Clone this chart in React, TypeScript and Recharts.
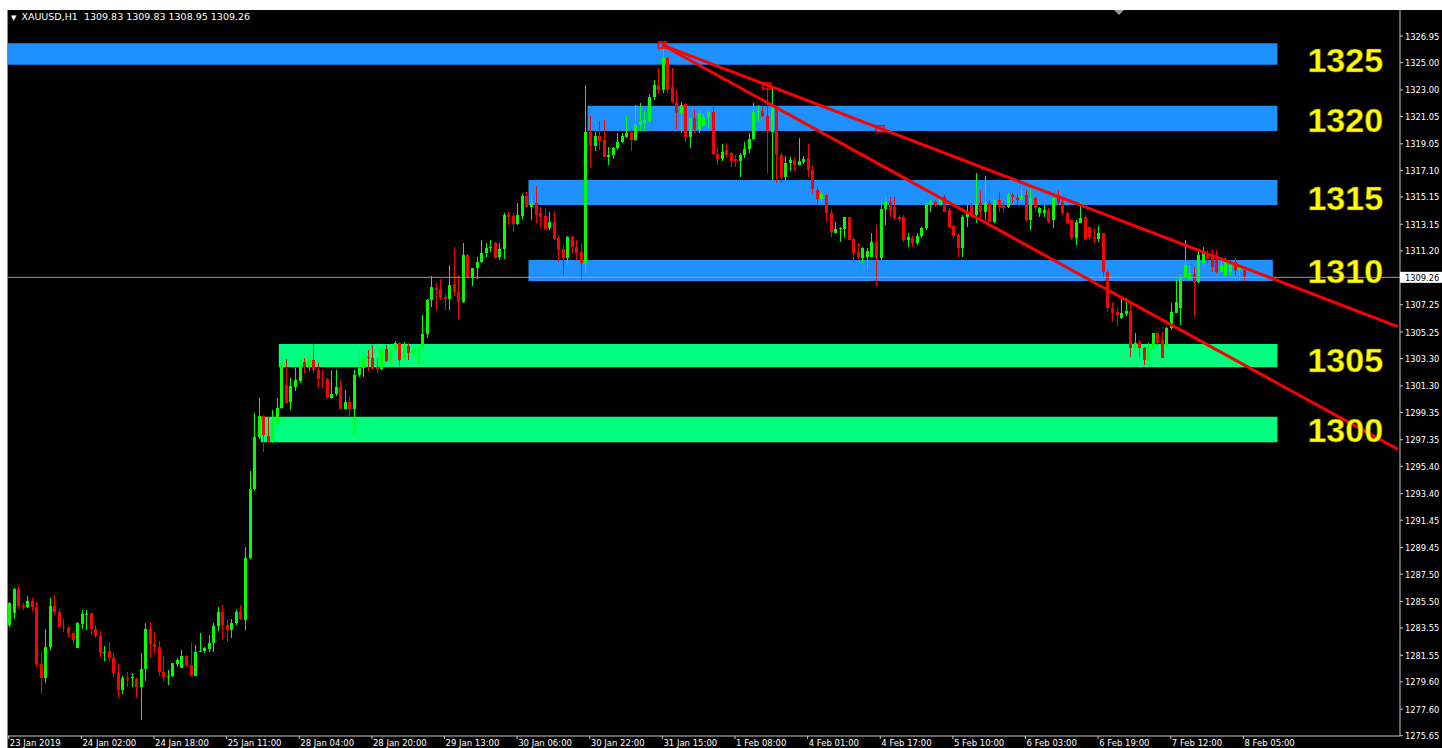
import React from 'react';
import { ComposedChart, Bar, XAxis, YAxis, ReferenceArea, ReferenceLine, ReferenceDot } from 'recharts';

// Date labels shown every 16 hourly bars
const dateLabels = [
  '23 Jan 2019', '24 Jan 02:00', '24 Jan 18:00', '25 Jan 11:00', '28 Jan 04:00', '28 Jan 20:00',
  '29 Jan 13:00', '30 Jan 06:00', '30 Jan 22:00', '31 Jan 15:00', '1 Feb 08:00', '4 Feb 01:00',
  '4 Feb 17:00', '5 Feb 10:00', '6 Feb 03:00', '6 Feb 19:00', '7 Feb 12:00', '8 Feb 05:00',
];
const labelEvery = 16;
const totalSlots = 307;

// Price axis labels
const priceTicks = [
  1326.95, 1325.0, 1323.0, 1321.05, 1319.05, 1317.1, 1315.15, 1313.15, 1311.2, 1309.26, 1307.25,
  1305.25, 1303.3, 1301.3, 1299.35, 1297.35, 1295.4, 1293.4, 1291.45, 1289.45, 1287.5, 1285.5,
  1283.55, 1281.55, 1279.6, 1277.6, 1275.65,
];
const lastPrice = 1309.26;
const priceDomain: [number, number] = [1275.63, 1328.86];

// XAUUSD H1 candles: [open, high, low, close]
const candles: [number, number, number, number][] = [
  [1283.77, 1285.48, 1283.65, 1285.36], [1284.62, 1286.5, 1284.18, 1286.41], [1286.41, 1286.63, 1284.92, 1285.16],
  [1285.2, 1285.4, 1284.87, 1285.06], [1285.06, 1285.89, 1285.0, 1285.53], [1285.53, 1285.72, 1284.82, 1285.06],
  [1285.06, 1285.48, 1280.66, 1280.88], [1280.88, 1281.74, 1278.71, 1279.91], [1279.91, 1283.45, 1279.54, 1282.18],
  [1282.18, 1285.72, 1281.93, 1285.16], [1285.16, 1285.97, 1284.5, 1284.75], [1284.75, 1284.92, 1283.52, 1283.65],
  [1283.65, 1284.18, 1283.28, 1283.55], [1283.55, 1283.77, 1282.91, 1283.16], [1283.16, 1283.35, 1282.37, 1282.67],
  [1282.11, 1283.96, 1282.06, 1283.89], [1283.82, 1284.87, 1283.45, 1284.57], [1284.55, 1284.87, 1283.4, 1284.6],
  [1284.62, 1284.67, 1283.01, 1283.45], [1283.45, 1283.77, 1282.79, 1282.96], [1282.96, 1283.33, 1281.4, 1281.74],
  [1281.74, 1282.23, 1281.15, 1281.8], [1281.86, 1282.55, 1281.08, 1281.37], [1281.37, 1281.69, 1279.98, 1280.22],
  [1280.22, 1280.88, 1278.39, 1279.0], [1279.0, 1280.03, 1278.71, 1279.91], [1279.91, 1280.35, 1279.25, 1279.85],
  [1279.85, 1280.22, 1279.25, 1279.92], [1279.81, 1279.98, 1278.39, 1279.25], [1279.25, 1281.74, 1276.8, 1280.54],
  [1280.54, 1283.89, 1279.69, 1283.47], [1283.47, 1284.01, 1281.37, 1282.35], [1282.35, 1283.28, 1281.69, 1282.13],
  [1282.13, 1282.59, 1280.05, 1280.35], [1280.35, 1281.5, 1279.61, 1279.93], [1279.93, 1280.47, 1279.37, 1280.0],
  [1280.0, 1281.01, 1279.93, 1280.96], [1280.91, 1281.32, 1280.66, 1281.2], [1280.64, 1281.93, 1280.6, 1281.5],
  [1281.5, 1281.57, 1280.71, 1280.84], [1280.84, 1282.42, 1280.0, 1280.03], [1280.03, 1282.3, 1280.0, 1281.81],
  [1281.81, 1283.21, 1281.76, 1281.86], [1281.86, 1282.18, 1281.69, 1282.06], [1282.01, 1283.03, 1281.81, 1282.42],
  [1282.42, 1283.89, 1281.81, 1283.69], [1283.69, 1285.11, 1283.33, 1284.7], [1284.7, 1285.23, 1282.67, 1283.77],
  [1283.77, 1284.18, 1282.55, 1283.4], [1283.4, 1284.18, 1282.79, 1283.94], [1283.94, 1284.87, 1283.77, 1284.7],
  [1284.7, 1285.23, 1284.13, 1284.18], [1284.13, 1289.51, 1283.4, 1288.65], [1288.65, 1295.05, 1288.6, 1293.71],
  [1293.71, 1299.28, 1293.6, 1297.57], [1297.57, 1300.39, 1297.38, 1299.09], [1299.09, 1299.2, 1296.48, 1297.69],
  [1297.6, 1299.05, 1297.09, 1297.21], [1297.21, 1299.54, 1297.1, 1298.56], [1298.56, 1300.39, 1297.9, 1299.66],
  [1299.66, 1303.08, 1299.6, 1302.96], [1301.37, 1303.25, 1299.95, 1300.02], [1300.15, 1301.86, 1299.54, 1301.3],
  [1301.25, 1302.59, 1300.95, 1301.74], [1301.69, 1303.2, 1301.49, 1303.08], [1303.08, 1303.32, 1302.22, 1302.71],
  [1302.71, 1303.25, 1302.4, 1303.2], [1303.2, 1304.42, 1302.22, 1302.47], [1302.47, 1302.96, 1301.12, 1301.78],
  [1301.85, 1302.47, 1301.12, 1301.78], [1301.78, 1301.86, 1300.32, 1300.44], [1300.39, 1302.47, 1300.32, 1300.68],
  [1300.68, 1302.47, 1300.54, 1301.25], [1301.25, 1301.74, 1299.59, 1299.59], [1299.59, 1301.0, 1299.54, 1300.1],
  [1300.1, 1300.58, 1299.1, 1299.59], [1299.59, 1302.47, 1297.7, 1302.1], [1302.1, 1303.93, 1301.98, 1302.64],
  [1302.64, 1303.81, 1301.93, 1303.4], [1303.45, 1303.93, 1302.42, 1303.32], [1303.32, 1304.3, 1302.54, 1302.54],
  [1302.71, 1303.32, 1302.22, 1302.52], [1302.54, 1304.06, 1302.47, 1303.93], [1303.98, 1304.3, 1303.08, 1303.15],
  [1303.15, 1304.01, 1302.96, 1303.93], [1303.93, 1304.59, 1303.81, 1304.42], [1304.42, 1304.54, 1302.76, 1303.2],
  [1303.2, 1304.55, 1303.2, 1304.18], [1304.23, 1304.42, 1303.2, 1303.74], [1303.74, 1304.18, 1303.69, 1303.98],
  [1303.74, 1304.18, 1303.01, 1304.11], [1304.11, 1306.5, 1303.93, 1305.11], [1305.11, 1307.65, 1304.79, 1307.6],
  [1307.6, 1309.36, 1307.06, 1308.53], [1308.46, 1308.82, 1306.87, 1308.33], [1308.41, 1309.12, 1307.6, 1307.72],
  [1307.85, 1308.04, 1306.87, 1307.65], [1307.65, 1310.16, 1306.87, 1308.7], [1308.77, 1311.51, 1307.89, 1308.21],
  [1308.21, 1309.43, 1306.18, 1307.47], [1307.47, 1311.75, 1307.4, 1310.89], [1310.89, 1311.0, 1309.2, 1309.26],
  [1309.26, 1309.92, 1308.62, 1309.92], [1309.92, 1310.77, 1309.12, 1310.41], [1310.41, 1312.0, 1310.34, 1311.02],
  [1311.02, 1311.75, 1310.77, 1311.38], [1311.38, 1312.0, 1311.14, 1311.51], [1311.75, 1311.87, 1310.58, 1310.65],
  [1310.75, 1311.75, 1310.53, 1311.31], [1311.31, 1314.0, 1310.6, 1313.83], [1313.83, 1314.07, 1313.1, 1313.71],
  [1313.75, 1313.95, 1312.6, 1313.17], [1313.17, 1314.68, 1313.1, 1313.83], [1313.75, 1315.34, 1313.51, 1315.22],
  [1315.22, 1315.54, 1314.32, 1314.39], [1314.39, 1315.29, 1313.46, 1314.68], [1314.68, 1315.95, 1313.22, 1313.83],
  [1313.95, 1314.44, 1312.97, 1313.71], [1313.75, 1314.32, 1312.78, 1312.8], [1312.85, 1314.07, 1312.73, 1313.34],
  [1313.34, 1314.12, 1312.0, 1312.07], [1312.17, 1312.36, 1310.41, 1311.26], [1311.34, 1311.63, 1309.43, 1310.7],
  [1310.7, 1312.29, 1310.16, 1312.24], [1312.24, 1312.29, 1310.97, 1311.46], [1311.51, 1312.0, 1310.53, 1311.07],
  [1311.14, 1311.75, 1309.06, 1310.28], [1310.28, 1323.36, 1309.6, 1319.94], [1319.94, 1321.09, 1317.25, 1318.89],
  [1318.89, 1319.94, 1318.55, 1319.62], [1319.62, 1320.75, 1318.6, 1319.28], [1319.33, 1320.8, 1318.06, 1318.06],
  [1318.06, 1318.82, 1317.5, 1318.23], [1318.23, 1318.84, 1317.91, 1318.72], [1318.72, 1319.87, 1318.6, 1319.21],
  [1319.21, 1319.82, 1319.08, 1319.62], [1319.57, 1321.09, 1319.45, 1319.87], [1319.94, 1320.11, 1318.55, 1319.33],
  [1319.33, 1321.89, 1319.28, 1320.43], [1320.43, 1322.07, 1320.01, 1320.67], [1320.6, 1321.41, 1320.01, 1320.79],
  [1320.74, 1322.7, 1320.6, 1322.46], [1322.46, 1323.73, 1322.26, 1323.36], [1323.36, 1324.58, 1322.7, 1323.0],
  [1323.0, 1326.29, 1322.75, 1325.32], [1325.32, 1325.44, 1322.75, 1323.0], [1323.19, 1324.58, 1322.02, 1322.14],
  [1322.14, 1323.0, 1320.11, 1321.33], [1321.33, 1322.14, 1319.82, 1321.89], [1321.97, 1322.07, 1319.21, 1319.57],
  [1319.57, 1320.92, 1318.72, 1320.92], [1320.92, 1321.53, 1319.82, 1320.06], [1320.06, 1321.53, 1319.87, 1321.33],
  [1320.36, 1321.23, 1320.26, 1320.99], [1320.99, 1321.48, 1320.18, 1321.41], [1321.41, 1321.89, 1318.23, 1318.3],
  [1318.3, 1318.84, 1317.5, 1317.91], [1317.91, 1319.04, 1317.81, 1318.47], [1318.6, 1319.08, 1318.11, 1318.23],
  [1318.35, 1318.47, 1317.32, 1317.81], [1317.91, 1318.23, 1317.38, 1317.81], [1317.81, 1318.35, 1316.59, 1318.23],
  [1318.23, 1319.21, 1317.99, 1318.64], [1318.64, 1319.82, 1318.35, 1319.38], [1319.38, 1322.02, 1319.33, 1321.41],
  [1321.41, 1321.89, 1320.67, 1321.45], [1321.48, 1321.77, 1321.04, 1321.09], [1321.09, 1323.48, 1316.89, 1319.94],
  [1319.94, 1323.24, 1316.4, 1321.65], [1321.65, 1321.77, 1316.15, 1318.23], [1318.23, 1318.35, 1316.15, 1316.64],
  [1316.64, 1318.16, 1316.4, 1317.62], [1317.62, 1318.11, 1317.08, 1317.86], [1317.86, 1317.99, 1317.08, 1317.5],
  [1317.5, 1319.45, 1317.5, 1317.81], [1317.74, 1318.16, 1317.57, 1317.91], [1317.99, 1319.04, 1316.59, 1317.13],
  [1317.13, 1317.5, 1315.37, 1315.71], [1315.67, 1315.91, 1314.69, 1314.98], [1314.98, 1315.54, 1314.81, 1315.37],
  [1315.3, 1315.37, 1313.34, 1313.95], [1313.95, 1314.27, 1312.24, 1312.61], [1312.54, 1313.34, 1312.49, 1312.78],
  [1312.78, 1312.97, 1311.88, 1312.85], [1312.78, 1313.71, 1312.12, 1313.66], [1313.66, 1313.71, 1312.0, 1312.0],
  [1312.05, 1312.24, 1310.41, 1311.02], [1311.14, 1311.75, 1310.53, 1310.73], [1310.66, 1311.46, 1310.34, 1311.39],
  [1310.78, 1311.39, 1309.8, 1311.22], [1310.78, 1312.53, 1310.73, 1311.87], [1311.87, 1313.1, 1308.62, 1310.65],
  [1310.65, 1314.92, 1310.53, 1314.25], [1314.25, 1315.22, 1313.1, 1314.75], [1314.8, 1315.17, 1313.71, 1314.15],
  [1314.43, 1315.17, 1313.46, 1313.58], [1313.7, 1313.82, 1313.34, 1313.51], [1313.7, 1313.82, 1311.87, 1311.99],
  [1311.99, 1312.48, 1311.5, 1312.18], [1312.11, 1312.28, 1311.5, 1311.75], [1311.75, 1312.48, 1311.63, 1312.28],
  [1312.28, 1312.97, 1312.11, 1312.85], [1312.85, 1314.68, 1312.73, 1314.56], [1314.56, 1314.92, 1314.07, 1314.8],
  [1314.8, 1314.92, 1314.43, 1314.56], [1314.56, 1315.29, 1314.56, 1315.17], [1315.17, 1315.29, 1314.07, 1314.07],
  [1314.19, 1314.31, 1312.85, 1312.97], [1313.02, 1313.09, 1312.11, 1312.28], [1312.36, 1312.48, 1310.77, 1311.38],
  [1311.38, 1313.82, 1310.77, 1313.7], [1313.7, 1314.56, 1312.97, 1313.95], [1314.56, 1314.68, 1313.7, 1313.7],
  [1313.82, 1316.88, 1313.21, 1314.68], [1314.68, 1315.66, 1313.46, 1314.07], [1314.07, 1316.68, 1313.46, 1314.73],
  [1314.68, 1314.92, 1313.34, 1313.34], [1313.34, 1314.97, 1313.26, 1314.92], [1314.92, 1315.54, 1314.07, 1314.43],
  [1314.56, 1314.8, 1313.95, 1314.31], [1314.43, 1315.42, 1314.31, 1315.29], [1315.29, 1315.46, 1314.68, 1315.17],
  [1315.05, 1315.29, 1314.56, 1314.92], [1314.92, 1315.9, 1314.8, 1315.22], [1315.29, 1315.66, 1313.34, 1313.46],
  [1313.46, 1315.71, 1312.73, 1315.05], [1315.05, 1315.17, 1314.07, 1314.31], [1313.95, 1314.43, 1313.7, 1314.31],
  [1313.95, 1314.56, 1313.7, 1314.19], [1314.19, 1314.31, 1313.21, 1313.34], [1313.46, 1315.05, 1312.85, 1315.05],
  [1315.05, 1315.66, 1314.56, 1314.68], [1314.8, 1315.05, 1313.82, 1313.95], [1313.95, 1314.07, 1313.17, 1313.21],
  [1313.46, 1313.51, 1312.0, 1312.11], [1312.11, 1313.46, 1311.63, 1313.34], [1313.21, 1314.8, 1313.21, 1313.58],
  [1313.7, 1313.82, 1312.0, 1312.1], [1312.97, 1312.97, 1312.0, 1312.24], [1312.24, 1312.85, 1311.75, 1312.05],
  [1312.05, 1313.02, 1311.88, 1312.49], [1312.49, 1312.49, 1309.31, 1309.68], [1309.68, 1309.8, 1306.74, 1306.99],
  [1306.99, 1307.48, 1306.01, 1306.62], [1306.74, 1307.11, 1305.69, 1306.5], [1306.26, 1307.89, 1306.18, 1306.67],
  [1306.57, 1307.72, 1306.43, 1306.82], [1306.82, 1307.48, 1303.44, 1304.06], [1304.06, 1305.16, 1303.93, 1304.47],
  [1304.54, 1304.67, 1303.44, 1304.06], [1304.06, 1304.18, 1302.83, 1303.2], [1303.2, 1304.42, 1303.15, 1304.18],
  [1304.18, 1305.2, 1303.93, 1305.16], [1305.16, 1305.28, 1304.3, 1304.42], [1304.67, 1305.28, 1303.32, 1303.32],
  [1304.18, 1305.64, 1304.18, 1305.52], [1305.52, 1307.35, 1305.4, 1306.74], [1306.62, 1309.06, 1306.62, 1307.48],
  [1306.99, 1309.43, 1305.77, 1309.19], [1309.19, 1312.0, 1309.19, 1310.16], [1309.12, 1310.16, 1309.06, 1309.55],
  [1309.5, 1310.04, 1306.38, 1308.94], [1308.94, 1311.27, 1308.82, 1310.9], [1310.29, 1311.51, 1310.16, 1311.14],
  [1310.9, 1311.27, 1310.29, 1310.58], [1310.9, 1311.27, 1309.68, 1310.04], [1310.58, 1311.27, 1309.6, 1309.68],
  [1309.68, 1310.53, 1309.68, 1310.16], [1309.43, 1310.65, 1309.36, 1310.41], [1309.68, 1310.41, 1309.43, 1310.16],
  [1310.41, 1310.65, 1309.43, 1309.8], [1309.8, 1310.16, 1309.06, 1310.04], [1309.83, 1309.83, 1308.95, 1309.26],
];

// Support / resistance zones (price band, bar span)
const zoneLabels = ['1325', '1320', '1315', '1310', '1305', '1300'];
const zoneTops = [1326.42, 1321.84, 1316.39, 1310.53, 1304.37, 1299.04];
const zoneBottoms = [1324.85, 1319.98, 1314.56, 1308.99, 1302.66, 1297.16];
const zoneStarts: (number | undefined)[] = [undefined, 128, 115, 115, 60, 56];
const zoneEnds = [279, 279, 279, 278, 279, 279];
const zoneColors = ['#1e90ff', '#1e90ff', '#1e90ff', '#1e90ff', '#00ff7f', '#00ff7f'];
const zoneLabelPrices = [1325.23, 1320.83, 1315.07, 1309.72, 1303.2, 1298.07];
const zoneLabelBar = 294;

// Trend lines from the 31 Jan high
const trendStart = { bar: 144, price: 1326.29 };
const trendEnds = [{ bar: 306, price: 1305.65 }, { bar: 306, price: 1296.65 }];
const trendAnchors = [
  { bar: 144, price: 1326.29 },
  { bar: 167, price: 1323.28 },
  { bar: 192, price: 1320.15 },
];

const header = 'XAUUSD,H1  1309.83 1309.83 1308.95 1309.26';

const rows = Array.from({ length: totalSlots }, (_, i) => {
  const c = candles[i];
  return c ? { i, o: c[0], h: c[1], l: c[2], c: c[3], range: [c[2], c[1]] } : { i };
});
const xTicks = dateLabels.map((_, k) => k * labelEvery);

const FONT = '"DejaVu Sans", Tahoma, sans-serif';

const Candle = (props: any) => {
  const { x, y, width, height, payload } = props;
  if (!payload || payload.o == null) return <g />;
  const { o, h, l, c } = payload;
  const top = Math.min(y, y + height);
  const hh = Math.abs(height);
  const k = h - l > 0 ? hh / (h - l) : 0;
  const yO = top + (h - o) * k;
  const yC = top + (h - c) * k;
  const cx = Math.round(x + width / 2);
  const color = c >= o ? '#00ff00' : '#ff0000';
  const bt = Math.min(yO, yC);
  const bh = Math.max(1, Math.abs(yC - yO));
  return (
    <g shapeRendering="crispEdges">
      <line x1={cx + 0.5} x2={cx + 0.5} y1={top} y2={top + Math.max(hh, 1)} stroke={color} strokeWidth={1} />
      <rect x={cx - 1} y={bt} width={3} height={bh} fill={color} />
    </g>
  );
};

const XTick = (props: any) => {
  const { x, y, payload } = props;
  const idx = Math.round(payload.value / labelEvery);
  return (
    <g>
      <line x1={x} x2={x} y1={y} y2={y + 3} stroke="#c8c8c8" strokeWidth={1} />
      <text x={x + 1} y={y + 10} fill="#ffffff" fontSize={8.5} fontFamily={FONT} textAnchor="start">
        {dateLabels[idx]}
      </text>
    </g>
  );
};

const YTick = (props: any) => {
  const { x, y, payload } = props;
  const v = payload.value as number;
  const txt = v.toFixed(2);
  if (Math.abs(v - lastPrice) < 0.001) {
    return (
      <g>
        <rect x={x} y={y - 5.5} width={42} height={11} fill="#ffffff" />
        <text x={x + 5} y={y + 3.5} fill="#000000" fontSize={8.3} fontFamily={FONT}>{txt}</text>
      </g>
    );
  }
  return (
    <g>
      <line x1={x} x2={x + 3} y1={y} y2={y} stroke="#c8c8c8" strokeWidth={1} />
      <text x={x + 5} y={y + 3.5} fill="#ffffff" fontSize={8.3} fontFamily={FONT}>{txt}</text>
    </g>
  );
};

const anchorShape = (p: any) => (
  <rect x={p.cx - 4} y={p.cy - 3} width={8} height={6} fill="none" stroke="#ff0000" strokeWidth={1.5} />
);

const zoneLabelShape = (label: string) => (p: any) => (
  <text
    x={p.cx + 2}
    y={p.cy}
    fill="#ffff00"
    stroke="#6b5a00"
    strokeWidth={0.5}
    fontSize={34}
    fontWeight="bold"
    fontFamily='"Liberation Sans", Arial, sans-serif'
    textAnchor="middle"
    dominantBaseline="central"
  >
    {label}
  </text>
);

export default function App() {
  return (
    <div
      style={{
        position: 'absolute',
        top: 10,
        left: 7,
        borderLeft: '1px solid #8a8a8a',
        width: 1434,
        height: 738,
        background: '#000000',
        overflow: 'hidden',
      }}
    >
      <ComposedChart
        width={1434}
        height={738}
        data={rows}
        margin={{ top: 0, right: 0, bottom: 0, left: -1.5 }}
        barCategoryGap={0}
      >
        <XAxis
          dataKey="i"
          type="category"
          ticks={xTicks}
          interval={0}
          height={12}
          tickSize={0}
          tickMargin={0}
          tick={<XTick />}
          axisLine={{ stroke: '#c8c8c8' }}
          tickLine={false}
        />
        <YAxis
          orientation="right"
          type="number"
          domain={priceDomain}
          allowDataOverflow
          ticks={priceTicks}
          interval={0}
          width={42}
          tickSize={0}
          tickMargin={0}
          tick={<YTick />}
          axisLine={{ stroke: '#c8c8c8' }}
          tickLine={false}
        />
        {zoneLabels.map((z, k) => (
          <ReferenceArea
            key={'zone' + z}
            x1={zoneStarts[k]}
            x2={zoneEnds[k]}
            y1={zoneBottoms[k]}
            y2={zoneTops[k]}
            fill={zoneColors[k]}
            fillOpacity={1}
            stroke="none"
            ifOverflow="hidden"
          />
        ))}
        <ReferenceLine y={lastPrice} stroke="#9a9a9a" strokeWidth={1} />
        <Bar dataKey="range" shape={<Candle />} isAnimationActive={false} />
        {trendEnds.map((e, k) => (
          <ReferenceLine
            key={'trend' + k}
            segment={[
              { x: trendStart.bar, y: trendStart.price },
              { x: e.bar, y: e.price },
            ]}
            stroke="#ff0000"
            strokeWidth={3}
          />
        ))}
        {trendAnchors.map((a, k) => (
          <ReferenceDot key={'anchor' + k} x={a.bar} y={a.price} r={4} shape={anchorShape} />
        ))}
        {zoneLabels.map((z, k) => (
          <ReferenceDot
            key={'zl' + z}
            x={zoneLabelBar}
            y={zoneLabelPrices[k]}
            r={1}
            shape={zoneLabelShape(z)}
          />
        ))}
      </ComposedChart>
      <div
        style={{
          position: 'absolute',
          left: 3,
          top: 1,
          color: '#ffffff',
          fontFamily: FONT,
          fontSize: 9.5,
          whiteSpace: 'pre',
          lineHeight: '12px',
        }}
      >
        <span style={{ fontSize: 7, marginRight: 5 }}>▼</span>
        {header}
      </div>
      <div
        style={{
          position: 'absolute',
          left: 1106,
          top: 0,
          width: 0,
          height: 0,
          borderLeft: '5px solid transparent',
          borderRight: '5px solid transparent',
          borderTop: '5px solid #9a9a9a',
        }}
      />
    </div>
  );
}
